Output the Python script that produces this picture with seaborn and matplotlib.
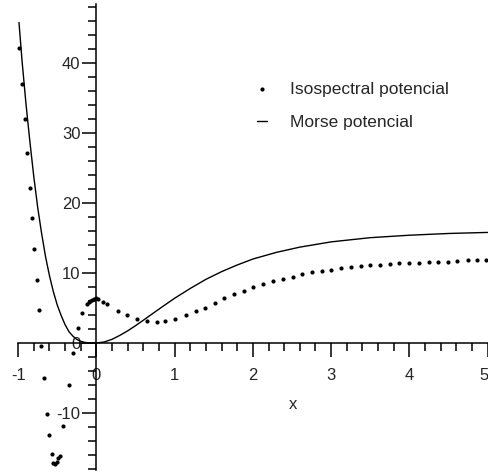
import matplotlib
matplotlib.use("Agg")
import matplotlib.pyplot as plt
import matplotlib.transforms as mtransforms
import seaborn as sns
from matplotlib.ticker import MultipleLocator, FixedLocator

# ---- data ----
morse_x = [-0.99, -0.95, -0.9, -0.85, -0.8, -0.75, -0.7, -0.65, -0.6, -0.55,
           -0.5, -0.45, -0.4, -0.35, -0.3, -0.25, -0.2, -0.15, -0.1, -0.05,
           0.0, 0.1, 0.2, 0.3, 0.4, 0.5, 0.6, 0.8, 1.0, 1.2, 1.4, 1.6, 1.8,
           2.0, 2.3, 2.6, 3.0, 3.5, 4.0, 4.5, 5.0]
morse_y = [45.8, 40.2, 34.1, 28.7, 23.7, 19.3, 15.6, 12.3, 9.6, 7.3,
           5.4, 3.9, 2.6, 1.6, 0.97, 0.5, 0.24, 0.09, 0.02, 0.0,
           0.0, 0.15, 0.53, 1.1, 1.74, 2.48, 3.26, 4.85, 6.4, 7.8, 9.1, 10.2, 11.15,
           12.0, 12.95, 13.7, 14.45, 15.05, 15.4, 15.65, 15.8]

iso_x = [-0.986, -0.948, -0.917, -0.884, -0.849, -0.828, -0.798, -0.764, -0.736,
         -0.703, -0.667, -0.632, -0.603, -0.572, -0.552, -0.530, -0.508, -0.487,
         -0.466, -0.424, -0.351, -0.304, -0.232, -0.181, -0.12, -0.10, -0.08,
         -0.06, -0.03, 0.0, 0.02, 0.087, 0.138, 0.28, 0.39, 0.52, 0.64, 0.77,
         0.88, 1.01, 1.14, 1.27, 1.39, 1.51, 1.63, 1.76, 1.88, 2.0, 2.13, 2.26,
         2.38, 2.51, 2.63, 2.76, 2.88, 3.0, 3.13, 3.26, 3.38, 3.50, 3.63, 3.75,
         3.87, 3.99, 4.12, 4.25, 4.37, 4.5, 4.61, 4.75, 4.87, 4.98]
iso_y = [42.2, 37.0, 32.0, 27.1, 22.2, 17.9, 13.5, 9.0, 4.7,
         -0.4, -5.0, -10.2, -13.1, -15.9, -17.1, -17.3, -17.0, -16.5,
         -16.2, -11.9, -6.0, -1.4, 2.2, 4.3, 5.6, 5.9, 6.0,
         6.1, 6.3, 6.4, 6.3, 5.9, 5.6, 4.6, 4.0, 3.4, 3.1, 3.0,
         3.2, 3.5, 4.0, 4.6, 5.0, 5.7, 6.4, 7.0, 7.4, 8.0, 8.5, 8.9,
         9.2, 9.5, 9.9, 10.1, 10.3, 10.5, 10.7, 10.9, 11.0, 11.1, 11.2, 11.3,
         11.4, 11.5, 11.5, 11.6, 11.6, 11.6, 11.7, 11.8, 11.8, 11.8]

x_ticks = [-1, 0, 1, 2, 3, 4, 5]
y_ticks = [-10, 0, 10, 20, 30, 40]
series_labels = ["Isospectral potencial", "Morse potencial"]
axis_label = "x"

# ---- style ----
sns.set_style("white")
plt.rcParams["font.family"] = ["Liberation Sans", "DejaVu Sans"]

fig = plt.figure(figsize=(4.88, 4.73), dpi=100)
ax = fig.add_axes([0.0373, 0.007, 0.9627, 0.984])

sns.scatterplot(x=iso_x, y=iso_y, ax=ax, color="black", s=9, marker="o",
                linewidth=0, label=series_labels[0], clip_on=False)
sns.lineplot(x=morse_x, y=morse_y, ax=ax, color="black", linewidth=1.0,
             label=series_labels[1], sort=False, estimator=None)

ax.set_xlim(-1, 5.005)
ax.set_ylim(-18.1, 48.4)

for s in ["top", "right"]:
    ax.spines[s].set_visible(False)
for s in ["left", "bottom"]:
    ax.spines[s].set_position(("data", 0))
    ax.spines[s].set_linewidth(1.1)
    ax.spines[s].set_color("black")

ax.xaxis.set_major_locator(FixedLocator(x_ticks))
ax.xaxis.set_minor_locator(MultipleLocator(0.2))
ax.yaxis.set_major_locator(FixedLocator(y_ticks))
ax.yaxis.set_minor_locator(MultipleLocator(2))
ax.set_xticklabels([str(t) for t in x_ticks])
ax.set_yticklabels([str(t) for t in y_ticks])

ax.tick_params(axis="x", which="major", direction="out", length=10, width=1.1,
               pad=8, labelsize=12, color="black", bottom=True)
ax.tick_params(axis="x", which="minor", direction="out", length=6, width=1.1,
               color="black", bottom=True)
ax.tick_params(axis="y", which="major", direction="out", length=10, width=1.1,
               pad=1.5, labelsize=12, color="black", left=True)
ax.tick_params(axis="y", which="minor", direction="out", length=6, width=1.1,
               color="black", left=True)
ax.grid(False)
ax.set_xlabel("")
ax.set_ylabel("")

# keep the last x tick label inside the figure
last = ax.get_xticklabels()[-1]
last.set_transform(last.get_transform() +
                   mtransforms.ScaledTranslation(-4 / 100, 0, fig.dpi_scale_trans))

ax.annotate(axis_label, xy=(0.585, 0.139), xycoords="axes fraction",
            ha="center", va="center", fontsize=12)

h, l = ax.get_legend_handles_labels()
ax.legend(h, l, loc="upper left", bbox_to_anchor=(0.508, 0.8335), frameon=False,
          fontsize=12.5, handlelength=0.6, handletextpad=1.3, labelspacing=1.06,
          borderpad=0, borderaxespad=0)

fig.savefig("out.png", dpi=100)
